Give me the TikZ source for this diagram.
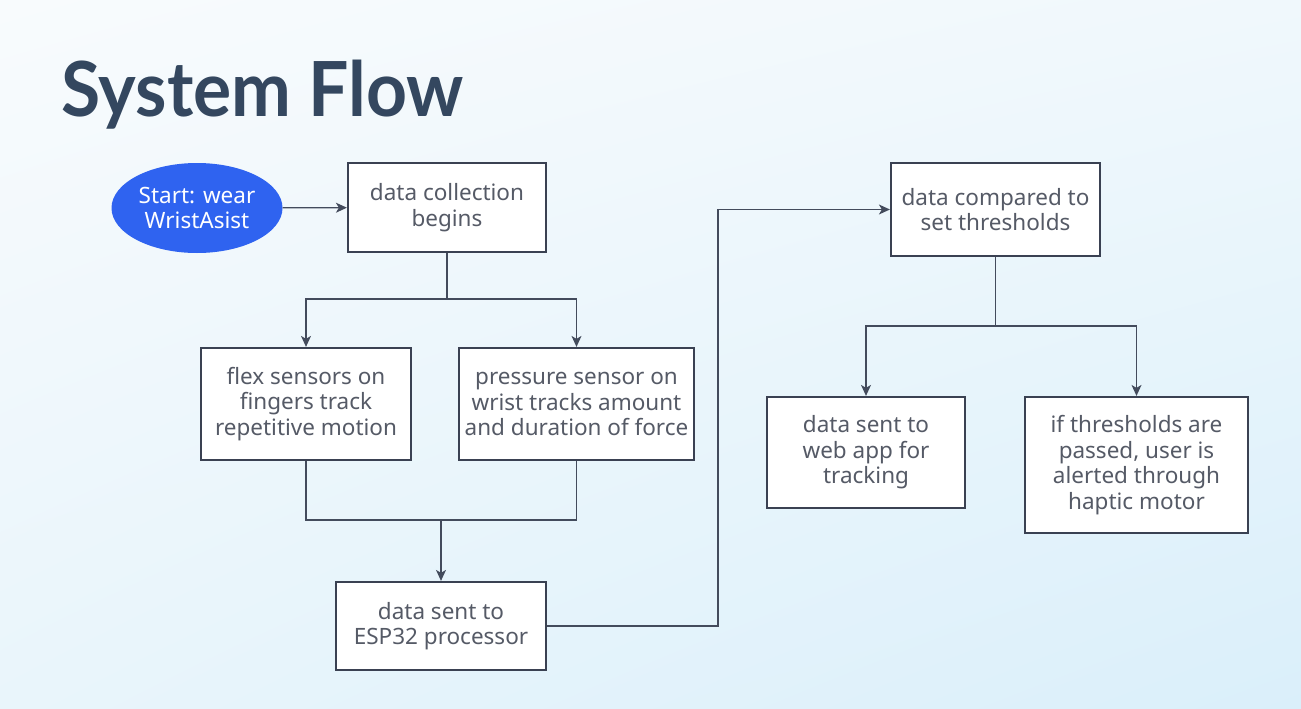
\documentclass[tikz,border=0pt]{standalone}
\usepackage{fontspec}
\setmainfont{Noto Sans}
\newfontfamily\titlefont[FakeStretch=0.94]{Lato}
\usetikzlibrary{arrows.meta,shapes.geometric,shadings}
\definecolor{linec}{HTML}{434B5C}
\definecolor{boxc}{HTML}{3A4152}
\definecolor{txtc}{HTML}{555A66}
\definecolor{titlec}{HTML}{34475F}
\definecolor{startc}{HTML}{2F63F0}
\definecolor{bgul}{HTML}{F8FBFD}
\definecolor{bgur}{HTML}{F0F8FC}
\definecolor{bgll}{HTML}{E9F5FB}
\definecolor{bglr}{HTML}{DAEFFA}
\tikzset{
  x=1pt,y=-1pt,
  boxfont/.style={font=\fontsize{22.5}{25.5}\selectfont},
  stepbox/.style={draw=boxc,line width=2.2pt,fill=white,text=txtc,align=center,
    boxfont,inner sep=0pt},
  conn/.style={draw=linec,line width=1.2pt},
  arr/.style={conn,-{Stealth[length=11pt,width=10pt,inset=3pt]}},
}
\begin{document}
\begin{tikzpicture}
\useasboundingbox (0,0) rectangle (1301,709);
\shade[upper left=bgul, upper right=bgur, lower left=bgll, lower right=bglr] (0,0) rectangle (1301,709);
\node[anchor=base west,text=titlec,font=\titlefont\bfseries\fontsize{76}{80}\selectfont,inner sep=0pt] (title) at (61,116) {System Flow};

\node[ellipse,fill=startc,text=white,minimum width=171pt,minimum height=90pt,inner sep=0pt,align=center,boxfont] (start) at (197,208) {Start: wear\\WristAsist};
\node[stepbox,minimum width=198pt,minimum height=89pt] (collect) at (447,207.5) {data collection\\begins};
\node[stepbox,minimum width=210pt,minimum height=112pt] (flex) at (306,404) {flex sensors on\\fingers track\\repetitive motion};
\node[stepbox,minimum width=235pt,minimum height=112pt] (press) at (576.5,404) {pressure sensor on\\wrist tracks amount\\and duration of force};
\node[stepbox,minimum width=210pt,minimum height=88pt] (esp) at (441,626) {data sent to\\ESP32 processor};
\node[stepbox,minimum width=209pt,minimum height=93pt] (comp) at (995.5,209.5) {data compared to\\set thresholds};
\node[stepbox,minimum width=198pt,minimum height=111pt] (web) at (866,452.5) {data sent to\\web app for\\tracking};
\node[stepbox,minimum width=223pt,minimum height=136pt] (haptic) at (1136.5,465) {if thresholds are\\passed, user is\\alerted through\\haptic motor};

\coordinate (j1) at (447,299);
\coordinate (j2) at (441,520);
\coordinate (j3) at (718,626);
\coordinate (j4) at (995.5,326);

\draw[arr] (start) -- (collect);
\draw[conn] (collect.south) -- (j1);
\draw[arr] (j1) -| (flex.north);
\draw[arr] (j1) -| (press.north);
\draw[conn] (flex.south) |- (j2);
\draw[conn] (press.south) |- (j2);
\draw[arr] (j2) -- (esp.north);
\draw[arr] (esp.east) -- (j3) |- (comp.west);
\draw[conn] (comp.south) -- (j4);
\draw[arr] (j4) -| (web.north);
\draw[arr] (j4) -| (haptic.north);
\end{tikzpicture}
\end{document}
